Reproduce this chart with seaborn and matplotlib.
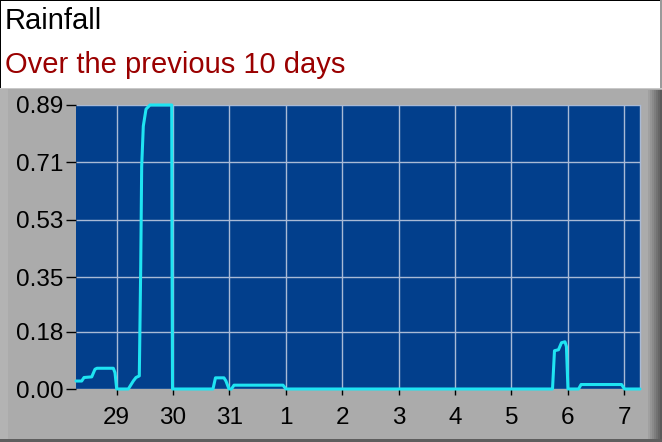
import matplotlib
matplotlib.use("Agg")
import matplotlib.pyplot as plt
from matplotlib.patches import Rectangle
import seaborn as sns

# rainfall trace, x in days after the 29th
day_pos = [-0.722, -0.621, -0.580, -0.443, -0.385, -0.349, -0.060, -0.030, 0.000,
           0.206, 0.294, 0.342, 0.401, 0.426, 0.443, 0.472, 0.520, 0.591, 0.976,
           0.981, 0.990, 1.708, 1.752, 1.903, 1.938, 1.992, 2.036, 2.081, 2.950,
           3.003, 7.731, 7.766, 7.837, 7.890, 7.952, 7.978, 8.005, 8.193, 8.237,
           8.956, 9.009, 9.283]
rain = [0.025, 0.025, 0.036, 0.038, 0.062, 0.065, 0.065, 0.051, 0.000,
        0.000, 0.025, 0.036, 0.041, 0.382, 0.697, 0.824, 0.877, 0.890, 0.890,
        0.445, 0.000, 0.000, 0.035, 0.035, 0.025, 0.000, 0.000, 0.012, 0.012,
        0.000, 0.000, 0.120, 0.123, 0.145, 0.148, 0.133, 0.000, 0.000, 0.014,
        0.014, 0.000, 0.000]

day_labels = ["29", "30", "31", "1", "2", "3", "4", "5", "6", "7"]
y_ticks = [0.00, 0.18, 0.35, 0.53, 0.71, 0.89]

PANEL = "#ABABAB"
PLOT_BG = "#023F8C"
GRID = "#A9BAD6"
LINE = "#1FE4F2"

sns.set_style("dark")
plt.rcParams["font.family"] = ["Liberation Sans", "DejaVu Sans"]

W, H = 662, 442
fig = plt.figure(figsize=(W / 100, H / 100), dpi=100, facecolor="white")


def fig_rect(x0, y0, w, h, color):
    # rectangle given in pixels from the top-left corner
    fig.patches.append(Rectangle((x0 / W, 1 - (y0 + h) / H), w / W, h / H,
                                 transform=fig.transFigure, facecolor=color,
                                 edgecolor="none", zorder=-5))


# grey panel with a dark bevel on the right and bottom
panel_top = 88
fig_rect(0, panel_top, W, H - panel_top, PANEL)
fig_rect(0, panel_top, W, 1, "#C8C8C8")
fig_rect(0, panel_top + 1, 8, H - panel_top, "#B3B3B3")
shades = ["#A0A0A0", "#959595", "#8A8A8A", "#7E7E7E", "#727272", "#666666", "#5A5A5A"]
for i, c in enumerate(shades):
    fig_rect(648 + i * 2, panel_top + 2, 2, H - panel_top, c)
fig_rect(0, H - 3, W, 3, "#5E5E5E")
# thin frame round the header
fig_rect(0, 0, W, 1, "black")
fig_rect(0, 0, 1.2, panel_top, "black")
fig_rect(W - 2, 0, 2, panel_top, "#9A9A9A")

fig.text(5 / W, 1 - 28.7 / H, "Rainfall", fontsize=21, color="black", va="baseline")
fig.text(5 / W, 1 - 72.7 / H, "Over the previous 10 days", fontsize=21,
         color="#9A0000", va="baseline")

ax = fig.add_axes([76 / W, 1 - 389 / H, (640 - 76) / W, (389 - 105) / H])
ax.set_zorder(5)
ax.set_facecolor(PLOT_BG)

sns.lineplot(x=day_pos, y=rain, ax=ax, color=LINE, linewidth=2.2,
             estimator=None, sort=False, clip_on=False, zorder=3)

ax.set_xlim(-0.722, 9.283)
ax.set_ylim(0, 0.89)
ax.set_xticks(range(len(day_labels)))
ax.set_xticklabels(day_labels)
ax.set_yticks(y_ticks)
ax.set_yticklabels([f"{v:.2f}" for v in y_ticks])
ax.grid(True, color=GRID, linewidth=1.0)
ax.set_axisbelow(True)

ax.tick_params(axis="y", length=7, width=1, color="black", pad=2,
               labelsize=17.5, labelcolor="black", left=True)
ax.tick_params(axis="x", length=4, width=1, color="black", pad=9,
               labelsize=17.5, labelcolor="black", bottom=True)
for side in ["left", "top", "bottom"]:
    ax.spines[side].set_visible(False)
ax.spines["right"].set_color(GRID)
ax.spines["right"].set_linewidth(1.0)
ax.set_xlabel("")
ax.set_ylabel("")

fig.savefig("out.png", dpi=100, facecolor=fig.get_facecolor())
